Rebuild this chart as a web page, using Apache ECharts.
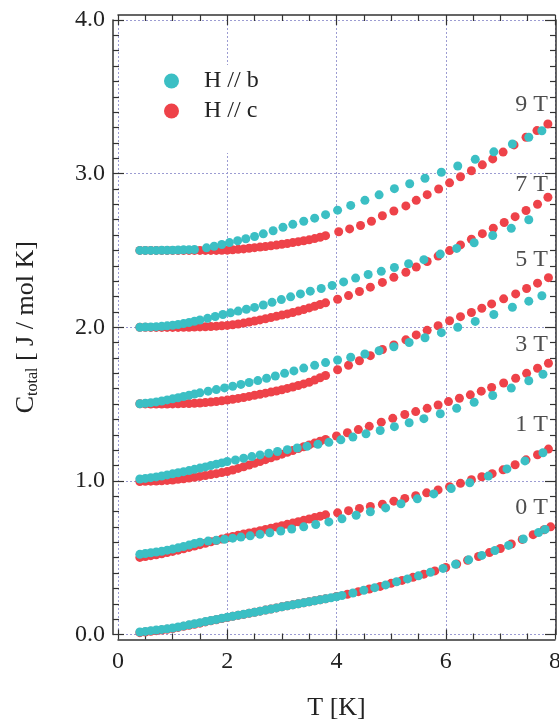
<!DOCTYPE html>
<html><head><meta charset="utf-8">
<script src="https://cdn.jsdelivr.net/npm/echarts@6/dist/echarts.min.js"></script>
<style>html,body{margin:0;padding:0;background:#fff}#c{width:559px;height:719px}</style>
</head><body><div id="c"></div>
<script>
// Tick labels
const xTickLabels = ['0','2','4','6','8'];
const yTickLabels = ['0.0','1.0','2.0','3.0','4.0'];
const seriesNames = ['H // b','H // c'];
const fieldLabels = ['0 T','1 T','3 T','5 T','7 T','9 T'];
const labelT = [7.57,7.57,7.57,7.57,7.57,7.57];
const labelC = [0.828,1.364,1.885,2.44,2.927,3.447];

// H // b (cyan) and H // c (red), [T (K), C_total (offset as plotted)]
const b0 = [[0.4,0.016],[0.5,0.020],[0.6,0.025],[0.7,0.029],[0.8,0.033],[0.9,0.037],[1.0,0.042],[1.1,0.049],[1.2,0.056],[1.3,0.063],[1.4,0.070],[1.5,0.077],[1.6,0.084],[1.7,0.091],[1.8,0.098],[1.9,0.105],[2.0,0.112],[2.1,0.119],[2.2,0.126],[2.3,0.132],[2.4,0.139],[2.5,0.145],[2.6,0.152],[2.7,0.159],[2.8,0.166],[2.9,0.173],[3.0,0.180],[3.1,0.187],[3.2,0.193],[3.3,0.200],[3.4,0.206],[3.5,0.213],[3.6,0.219],[3.7,0.226],[3.8,0.232],[3.9,0.239],[4.0,0.246],[4.1,0.254],[4.3,0.270],[4.5,0.288],[4.7,0.305],[4.9,0.323],[5.1,0.343],[5.3,0.362],[5.5,0.382],[5.72,0.405],[5.95,0.430],[6.18,0.457],[6.42,0.486],[6.66,0.515],[6.9,0.547],[7.15,0.580],[7.42,0.622],[7.7,0.664],[7.82,0.684]];
const c0 = [[0.4,0.012],[0.5,0.016],[0.6,0.021],[0.7,0.025],[0.8,0.029],[0.9,0.034],[1.0,0.039],[1.1,0.046],[1.2,0.053],[1.3,0.060],[1.4,0.067],[1.5,0.074],[1.6,0.082],[1.7,0.089],[1.8,0.096],[1.9,0.104],[2.0,0.111],[2.1,0.118],[2.2,0.125],[2.3,0.131],[2.4,0.138],[2.5,0.145],[2.6,0.152],[2.7,0.159],[2.8,0.166],[2.9,0.173],[3.0,0.180],[3.1,0.187],[3.2,0.193],[3.3,0.200],[3.4,0.206],[3.5,0.213],[3.6,0.219],[3.7,0.226],[3.8,0.232],[4.0,0.247],[4.2,0.262],[4.4,0.279],[4.6,0.296],[4.8,0.313],[5.0,0.333],[5.2,0.352],[5.4,0.372],[5.6,0.393],[5.8,0.414],[6.0,0.436],[6.2,0.459],[6.4,0.483],[6.6,0.508],[6.8,0.533],[7.0,0.560],[7.2,0.589],[7.4,0.619],[7.6,0.650],[7.8,0.682],[7.92,0.701]];
const b1 = [[0.4,0.522],[0.5,0.527],[0.6,0.532],[0.7,0.537],[0.8,0.542],[0.9,0.549],[1.0,0.556],[1.1,0.564],[1.2,0.573],[1.3,0.582],[1.4,0.592],[1.5,0.601],[1.65,0.608],[1.8,0.613],[1.95,0.620],[2.1,0.627],[2.25,0.634],[2.42,0.642],[2.6,0.652],[2.78,0.662],[2.98,0.674],[3.18,0.687],[3.4,0.701],[3.62,0.716],[3.86,0.733],[4.1,0.753],[4.36,0.776],[4.62,0.799],[4.9,0.824],[5.18,0.851],[5.48,0.883],[5.78,0.915],[6.1,0.950],[6.44,0.988],[6.78,1.031],[7.12,1.078],[7.45,1.130],[7.78,1.183]];
const c1 = [[0.4,0.502],[0.5,0.507],[0.6,0.513],[0.7,0.519],[0.8,0.526],[0.9,0.533],[1.0,0.541],[1.1,0.549],[1.2,0.558],[1.3,0.567],[1.4,0.576],[1.5,0.585],[1.6,0.594],[1.7,0.603],[1.8,0.612],[1.9,0.621],[2.0,0.630],[2.1,0.638],[2.2,0.646],[2.3,0.654],[2.4,0.661],[2.5,0.668],[2.6,0.676],[2.7,0.684],[2.8,0.692],[2.9,0.700],[3.0,0.708],[3.1,0.717],[3.2,0.725],[3.3,0.734],[3.4,0.743],[3.5,0.752],[3.6,0.761],[3.7,0.770],[3.8,0.779],[4.02,0.792],[4.22,0.806],[4.42,0.820],[4.62,0.834],[4.84,0.848],[5.05,0.868],[5.25,0.886],[5.45,0.903],[5.65,0.922],[5.86,0.941],[6.07,0.962],[6.27,0.984],[6.47,1.007],[6.66,1.027],[6.85,1.047],[7.05,1.072],[7.27,1.105],[7.47,1.137],[7.68,1.170],[7.88,1.207]];
const b3 = [[0.4,1.012],[0.5,1.016],[0.6,1.021],[0.7,1.026],[0.8,1.032],[0.9,1.039],[1.0,1.046],[1.1,1.053],[1.2,1.060],[1.3,1.067],[1.4,1.075],[1.5,1.083],[1.6,1.091],[1.7,1.100],[1.8,1.109],[1.9,1.117],[2.0,1.126],[2.15,1.136],[2.3,1.147],[2.45,1.158],[2.6,1.169],[2.76,1.180],[2.92,1.191],[3.1,1.203],[3.28,1.214],[3.46,1.225],[3.66,1.238],[3.86,1.251],[4.08,1.267],[4.3,1.285],[4.54,1.306],[4.8,1.328],[5.06,1.353],[5.33,1.378],[5.6,1.405],[5.9,1.437],[6.2,1.473],[6.52,1.512],[6.86,1.556],[7.2,1.604],[7.52,1.652],[7.78,1.694]];
const c3 = [[0.4,0.996],[0.5,0.997],[0.6,0.998],[0.7,0.999],[0.8,1.001],[0.9,1.003],[1.0,1.006],[1.1,1.010],[1.2,1.014],[1.3,1.018],[1.4,1.023],[1.5,1.029],[1.6,1.035],[1.7,1.041],[1.8,1.047],[1.9,1.054],[2.0,1.061],[2.1,1.071],[2.2,1.081],[2.3,1.092],[2.4,1.103],[2.5,1.114],[2.6,1.126],[2.7,1.138],[2.8,1.150],[2.9,1.162],[3.0,1.174],[3.1,1.186],[3.2,1.198],[3.3,1.210],[3.4,1.222],[3.5,1.234],[3.6,1.246],[3.7,1.258],[3.8,1.270],[4.0,1.292],[4.2,1.313],[4.4,1.334],[4.6,1.355],[4.82,1.382],[5.03,1.407],[5.25,1.432],[5.45,1.451],[5.66,1.472],[5.86,1.494],[6.05,1.516],[6.25,1.538],[6.45,1.560],[6.65,1.584],[6.84,1.608],[7.06,1.637],[7.28,1.668],[7.48,1.700],[7.68,1.733],[7.88,1.766]];
const b5 = [[0.4,1.502],[0.5,1.505],[0.6,1.509],[0.7,1.514],[0.8,1.520],[0.9,1.527],[1.0,1.534],[1.1,1.541],[1.2,1.549],[1.3,1.557],[1.4,1.565],[1.5,1.573],[1.65,1.584],[1.8,1.594],[1.95,1.605],[2.1,1.616],[2.25,1.628],[2.4,1.640],[2.56,1.653],[2.72,1.668],[2.88,1.683],[3.05,1.700],[3.22,1.716],[3.4,1.734],[3.6,1.752],[3.8,1.770],[4.02,1.787],[4.26,1.805],[4.52,1.826],[4.78,1.847],[5.05,1.873],[5.33,1.901],[5.62,1.932],[5.92,1.965],[6.22,2.000],[6.54,2.038],[6.88,2.083],[7.22,2.130],[7.52,2.170],[7.76,2.205]];
const c5 = [[0.4,1.502],[0.5,1.501],[0.6,1.500],[0.7,1.500],[0.8,1.500],[0.9,1.500],[1.0,1.501],[1.1,1.502],[1.2,1.503],[1.3,1.504],[1.4,1.505],[1.5,1.507],[1.6,1.510],[1.7,1.513],[1.8,1.517],[1.9,1.521],[2.0,1.526],[2.1,1.531],[2.2,1.537],[2.3,1.543],[2.4,1.550],[2.5,1.557],[2.6,1.564],[2.7,1.571],[2.8,1.578],[2.9,1.585],[3.0,1.593],[3.1,1.602],[3.2,1.611],[3.3,1.621],[3.4,1.631],[3.5,1.642],[3.6,1.656],[3.7,1.671],[3.8,1.686],[4.02,1.723],[4.22,1.752],[4.42,1.782],[4.62,1.815],[4.84,1.855],[5.05,1.885],[5.27,1.918],[5.46,1.950],[5.66,1.980],[5.86,2.010],[6.07,2.042],[6.27,2.069],[6.47,2.096],[6.66,2.124],[6.84,2.152],[7.06,2.185],[7.28,2.217],[7.48,2.252],[7.68,2.287],[7.88,2.323]];
const b7 = [[0.4,2.000],[0.5,2.001],[0.6,2.002],[0.7,2.004],[0.8,2.006],[0.9,2.009],[1.0,2.013],[1.1,2.018],[1.2,2.024],[1.3,2.031],[1.4,2.039],[1.5,2.047],[1.64,2.058],[1.78,2.070],[1.92,2.083],[2.06,2.094],[2.2,2.105],[2.35,2.117],[2.5,2.129],[2.66,2.145],[2.82,2.162],[2.99,2.180],[3.16,2.198],[3.34,2.217],[3.52,2.235],[3.72,2.252],[3.92,2.272],[4.13,2.295],[4.35,2.320],[4.58,2.343],[4.82,2.364],[5.06,2.389],[5.32,2.413],[5.6,2.440],[5.9,2.476],[6.2,2.513],[6.52,2.550],[6.86,2.597],[7.2,2.644],[7.52,2.700]];
const c7 = [[0.4,2.000],[0.5,2.000],[0.6,1.999],[0.7,1.999],[0.8,1.999],[0.9,1.999],[1.0,1.999],[1.1,1.999],[1.2,2.000],[1.3,2.000],[1.4,2.001],[1.5,2.002],[1.6,2.003],[1.7,2.005],[1.8,2.007],[1.9,2.009],[2.0,2.012],[2.1,2.016],[2.2,2.021],[2.3,2.027],[2.4,2.034],[2.5,2.041],[2.6,2.048],[2.7,2.055],[2.8,2.063],[2.9,2.071],[3.0,2.079],[3.1,2.087],[3.2,2.096],[3.3,2.105],[3.4,2.115],[3.5,2.126],[3.6,2.137],[3.7,2.148],[3.8,2.159],[4.02,2.182],[4.22,2.206],[4.42,2.233],[4.62,2.261],[4.84,2.292],[5.05,2.325],[5.27,2.358],[5.46,2.392],[5.66,2.428],[5.86,2.463],[6.07,2.499],[6.27,2.536],[6.47,2.573],[6.67,2.609],[6.87,2.645],[7.07,2.682],[7.27,2.720],[7.47,2.760],[7.68,2.801],[7.87,2.846]];
const b9 = [[0.4,2.500],[0.5,2.500],[0.6,2.500],[0.7,2.500],[0.8,2.501],[0.9,2.501],[1.0,2.502],[1.1,2.503],[1.2,2.504],[1.3,2.505],[1.4,2.506],[1.62,2.517],[1.76,2.527],[1.9,2.539],[2.04,2.551],[2.19,2.563],[2.34,2.576],[2.5,2.591],[2.66,2.608],[2.84,2.628],[3.02,2.651],[3.2,2.670],[3.4,2.690],[3.6,2.710],[3.8,2.733],[4.02,2.762],[4.26,2.793],[4.52,2.826],[4.78,2.862],[5.06,2.902],[5.34,2.934],[5.62,2.970],[5.92,3.009],[6.22,3.050],[6.54,3.093],[6.88,3.142],[7.22,3.193],[7.52,3.237],[7.76,3.279]];
const c9 = [[0.4,2.500],[0.5,2.500],[0.6,2.500],[0.7,2.500],[0.8,2.500],[0.9,2.500],[1.0,2.500],[1.1,2.500],[1.2,2.500],[1.3,2.500],[1.4,2.500],[1.5,2.500],[1.6,2.500],[1.7,2.500],[1.8,2.500],[1.9,2.501],[2.0,2.502],[2.1,2.504],[2.2,2.507],[2.3,2.510],[2.4,2.514],[2.5,2.518],[2.6,2.522],[2.7,2.526],[2.8,2.530],[2.9,2.535],[3.0,2.540],[3.1,2.545],[3.2,2.551],[3.3,2.557],[3.4,2.563],[3.5,2.569],[3.6,2.577],[3.7,2.586],[3.8,2.596],[4.04,2.622],[4.24,2.640],[4.44,2.662],[4.64,2.690],[4.84,2.726],[5.05,2.757],[5.27,2.790],[5.46,2.826],[5.66,2.863],[5.87,2.900],[6.07,2.940],[6.27,2.980],[6.47,3.019],[6.67,3.057],[6.86,3.096],[7.05,3.140],[7.25,3.187],[7.47,3.237],[7.67,3.280],[7.87,3.323]];

const cyanSets = [b0,b1,b3,b5,b7,b9];
const redSets  = [c0,c1,c3,c5,c7,c9];

const CYAN = '#3bbfc4', RED = '#ee4249';
const FONT = '"Liberation Serif", "Times New Roman", serif';
const INK = '#222';
const GRIDC = '#9c9cd2';

const series = [];
for (let i = 0; i < cyanSets.length; i++) {
  series.push({type:'scatter', name:seriesNames[1], data:redSets[i], symbolSize:9,
    itemStyle:{color:RED, opacity:1}, z:2, silent:true});
  series.push({type:'scatter', name:seriesNames[0], data:cyanSets[i], symbolSize:9,
    itemStyle:{color:CYAN, opacity:1}, z:3, silent:true});
}
series.push({type:'scatter', name:'labels', symbolSize:0, silent:true, z:4,
  data: fieldLabels.map((l,i)=>({name:l, value:[labelT[i], labelC[i]]})),
  label:{show:true, position:'inside', formatter:'{b}', fontFamily:FONT, fontSize:24, color:INK}});

const axisLine = {show:true, onZero:false, lineStyle:{color:'#333', width:1.5}};
const chart = echarts.init(document.getElementById('c'), null, {renderer:'canvas'});
chart.setOption({
  animation:false,
  backgroundColor:'#fff',
  grid:{left:118, right:4, top:20, bottom:84.5, containLabel:false, outerBoundsMode:'none'},
  legend:{
    data:seriesNames, orient:'vertical', left:164, top:65,
    icon:'circle', itemWidth:55, itemHeight:15, itemGap:6,
    padding:[4,20,30,0], backgroundColor:'#fff',
    textStyle:{fontFamily:FONT, fontSize:24, color:INK, lineHeight:24},
    selectedMode:false
  },
  xAxis:[{
    type:'value', min:0, max:8, interval:2, position:'bottom', offset:5,
    name:'T [K]', nameLocation:'middle', nameGap:56,
    nameTextStyle:{fontFamily:FONT, fontSize:26, color:INK},
    axisLine:axisLine,
    axisTick:{show:true, inside:true, length:10, lineStyle:{color:'#333', width:1.2}},
    minorTick:{show:true, splitNumber:4, length:6, lineStyle:{color:'#333', width:1.2}},
    axisLabel:{margin:10, fontFamily:FONT, fontSize:24, color:INK,
      formatter:(v)=>xTickLabels[Math.round(v/2)]},
    splitLine:{show:true, lineStyle:{color:GRIDC, type:[2,2], width:1}}
  },{
    type:'value', min:0, max:8, interval:2, position:'top', offset:5,
    axisLine:axisLine,
    axisTick:{show:true, inside:true, length:10, lineStyle:{color:'#333', width:1.2}},
    minorTick:{show:true, splitNumber:4, length:6, lineStyle:{color:'#333', width:1.2}},
    axisLabel:{show:false}, splitLine:{show:false}
  }],
  yAxis:[{
    type:'value', min:0, max:4, interval:1, position:'left', offset:5,
    name:'{a|C}{b|total}{a| [ J / mol K]}', nameLocation:'middle', nameGap:72, nameRotate:90,
    nameTextStyle:{rich:{
      a:{fontFamily:FONT, fontSize:26, color:INK, lineHeight:30},
      b:{fontFamily:FONT, fontSize:16, color:INK, verticalAlign:'bottom', lineHeight:18}
    }},
    axisLine:axisLine,
    axisTick:{show:true, inside:true, length:11, lineStyle:{color:'#333', width:1.2}},
    minorTick:{show:true, splitNumber:10, length:6, lineStyle:{color:'#333', width:1.2}},
    axisLabel:{margin:8, fontFamily:FONT, fontSize:24, color:INK,
      formatter:(v)=>yTickLabels[Math.round(v)]},
    splitLine:{show:true, lineStyle:{color:GRIDC, type:[2,2], width:1}}
  },{
    type:'value', min:0, max:4, interval:1, position:'right', offset:1,
    axisLine:axisLine,
    axisTick:{show:true, inside:true, length:11, lineStyle:{color:'#333', width:1.2}},
    minorTick:{show:true, splitNumber:10, length:6, lineStyle:{color:'#333', width:1.2}},
    axisLabel:{show:false}, splitLine:{show:false}
  }],
  series: series
});
</script></body></html>
